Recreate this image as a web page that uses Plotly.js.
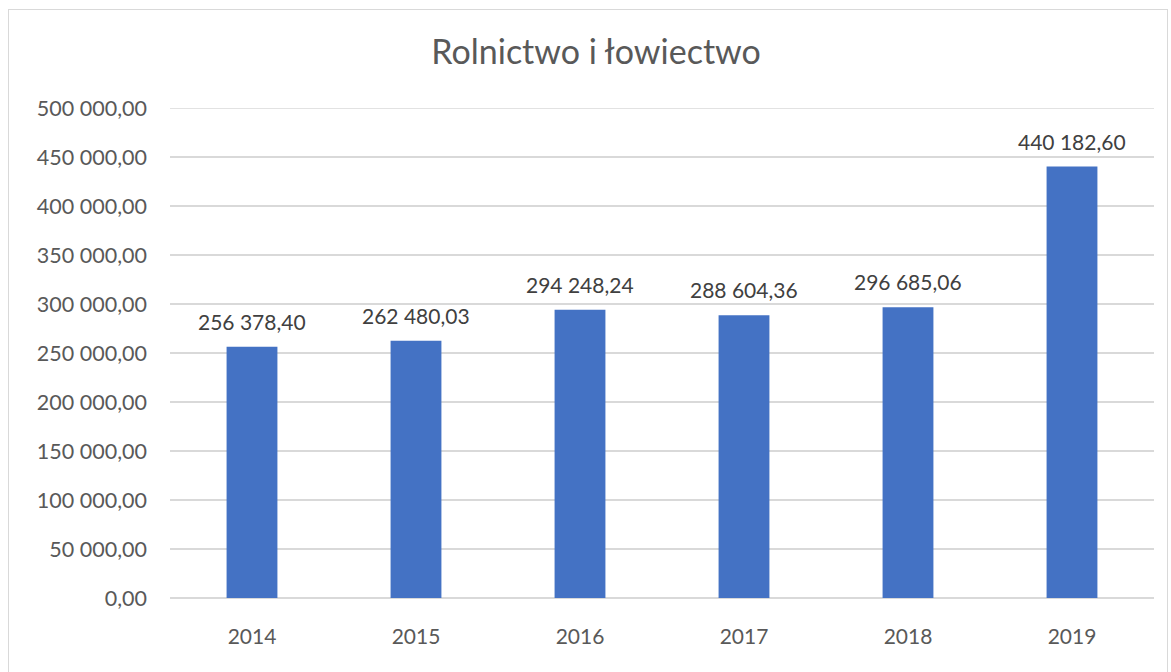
<!DOCTYPE html>
<html>
<head>
<meta charset="utf-8">
<script src="https://cdn.plot.ly/plotly-3.0.1.min.js"></script>
<style>
html,body{margin:0;padding:0;background:#fff;}
#wrap{position:relative;width:1171px;height:672px;}
#chart{width:1171px;height:672px;}
#frame{position:absolute;left:8px;top:9px;width:1160px;height:680px;border:1.5px solid #D9D9D9;box-sizing:border-box;pointer-events:none;}
</style>
</head>
<body>
<div id="wrap"><div id="chart"></div><div id="frame"></div></div>
<script>
const years = ['2014','2015','2016','2017','2018','2019'];
const values = [256378.40, 262480.03, 294248.24, 288604.36, 296685.06, 440182.60];
const yTicks = [0,50000,100000,150000,200000,250000,300000,350000,400000,450000,500000];
const chartTitle = 'Rolnictwo i łowiectwo';

const FONT = 'Lato, "Open Sans", sans-serif';

function fmtPL(v) {
  const parts = v.toFixed(2).split('.');
  const intPart = parts[0].replace(/\B(?=(\d{3})+(?!\d))/g, ' ');
  return intPart + ',' + parts[1];
}

const trace = {
  type: 'bar',
  x: years,
  y: values,
  marker: {color: '#4472C4'},
  hoverinfo: 'none'
};

// category axis: annotation x given as category index
const labels = years.map((yr, i) => ({
  x: i, y: values[i], xref: 'x', yref: 'y',
  text: fmtPL(values[i]), showarrow: false,
  xanchor: 'center', yanchor: 'bottom', yshift: 11,
  font: {family: FONT, size: 21, color: '#404040'}
}));

const layout = {
  width: 1171, height: 672,
  separators: ', ',
  margin: {l: 170, r: 17, t: 108, b: 74},
  paper_bgcolor: '#fff', plot_bgcolor: '#fff',
  bargap: 0.69,
  showlegend: false,
  title: {text: chartTitle, x: 0.509, xref: 'container', xanchor: 'center', y: 1, yref: 'container', yanchor: 'top', pad: {t: 40},
          font: {family: FONT, size: 34, color: '#595959'}},
  xaxis: {type: 'category', categoryorder: 'array', categoryarray: years, range: [-0.5, years.length - 0.5], autorange: false,
          showgrid: false, zeroline: false, showline: false, ticks: '',
          tickfont: {family: FONT, size: 21, color: '#595959'}, ticklabelstandoff: 24},
  yaxis: {range: [0, 500000], tickvals: yTicks, tickformat: ',.2f', showgrid: true, gridcolor: '#D9D9D9', gridwidth: 1.3,
          zeroline: true, zerolinecolor: '#D9D9D9', zerolinewidth: 1.3, showline: false, ticks: '',
          tickfont: {family: FONT, size: 21.5, color: '#595959'}, ticklabelstandoff: 22},
  shapes: [{type: 'line', xref: 'paper', yref: 'y', x0: 0, x1: 1, y0: 500000, y1: 500000,
            line: {color: '#D9D9D9', width: 1.3}, layer: 'below'}],
  annotations: labels,
  font: {family: FONT}
};
Plotly.newPlot('chart', [trace], layout, {displayModeBar: false, staticPlot: true});
</script>
</body>
</html>
